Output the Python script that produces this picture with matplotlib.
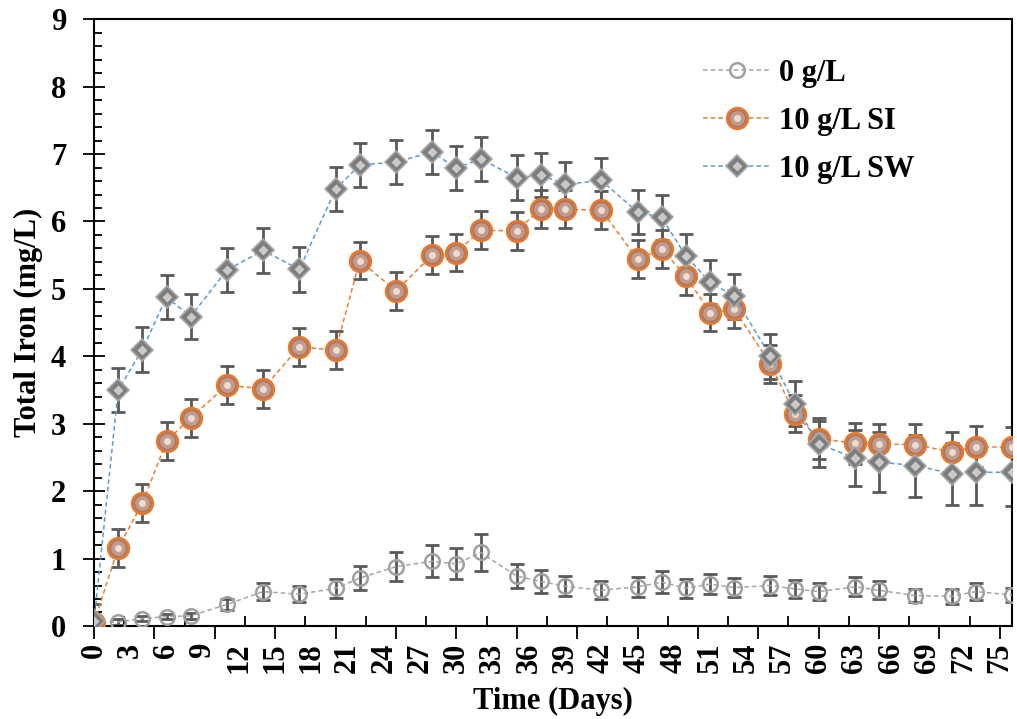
import matplotlib
matplotlib.use('Agg')
import matplotlib.pyplot as plt
from matplotlib.ticker import MultipleLocator, NullFormatter
from matplotlib.legend_handler import HandlerTuple

plt.rcParams['font.family'] = ['Liberation Serif', 'DejaVu Serif']
plt.rcParams['font.weight'] = 'bold'

# sampling days
days = [0, 2, 4, 6, 8, 11, 14, 17, 20, 22, 25, 28, 30, 32, 35, 37, 39, 42,
        45, 47, 49, 51, 53, 56, 58, 60, 63, 65, 68, 71, 73, 76]

# 0 g/L
fe_0 = [0.05, 0.06, 0.11, 0.14, 0.15, 0.32, 0.51, 0.47, 0.56, 0.71, 0.88, 0.96,
        0.92, 1.09, 0.74, 0.66, 0.59, 0.53, 0.58, 0.65, 0.56, 0.62, 0.57, 0.60,
        0.55, 0.51, 0.58, 0.53, 0.45, 0.44, 0.51, 0.46]
err_0 = [0.03, 0.04, 0.04, 0.04, 0.04, 0.08, 0.13, 0.12, 0.14, 0.18, 0.22, 0.24,
         0.23, 0.27, 0.18, 0.165, 0.15, 0.135, 0.15, 0.165, 0.14, 0.15, 0.14, 0.14,
         0.13, 0.12, 0.14, 0.13, 0.10, 0.11, 0.12, 0.10]

# 10 g/L SI
fe_si = [0.05, 1.16, 1.82, 2.74, 3.09, 3.57, 3.52, 4.14, 4.09, 5.42, 4.97, 5.50,
         5.54, 5.87, 5.86, 6.19, 6.18, 6.17, 5.44, 5.59, 5.19, 4.65, 4.70, 3.89,
         3.15, 2.78, 2.71, 2.70, 2.69, 2.58, 2.66, 2.65]
err_si = [0.10, 0.28, 0.28, 0.28, 0.28, 0.28, 0.28, 0.28, 0.28, 0.28, 0.28, 0.28,
          0.28, 0.28, 0.28, 0.28, 0.28, 0.28, 0.28, 0.28, 0.28, 0.28, 0.28, 0.28,
          0.28, 0.30, 0.30, 0.30, 0.30, 0.30, 0.30, 0.30]

# 10 g/L SW
fe_sw = [0.08, 3.50, 4.10, 4.88, 4.59, 5.28, 5.57, 5.29, 6.48, 6.84, 6.88, 7.03,
         6.79, 6.93, 6.65, 6.69, 6.55, 6.61, 6.14, 6.06, 5.49, 5.10, 4.89, 4.00,
         3.30, 2.70, 2.49, 2.43, 2.38, 2.26, 2.28, 2.28]
err_sw = [0.25, 0.33, 0.33, 0.33, 0.33, 0.33, 0.33, 0.33, 0.33, 0.33, 0.33, 0.33,
          0.33, 0.33, 0.33, 0.33, 0.33, 0.33, 0.33, 0.33, 0.33, 0.33, 0.33, 0.33,
          0.33, 0.34, 0.42, 0.44, 0.46, 0.46, 0.49, 0.50]

labels = ['0 g/L', '10 g/L SI', '10 g/L SW']

fig = plt.figure(figsize=(10.17, 7.19), dpi=100)
ax = fig.add_axes([0.0925, 0.1294, 0.9025, 0.8438])

ecol = '#595959'
dash = (3, 2)

# error bars first
for y, e in [(fe_0, err_0), (fe_si, err_si), (fe_sw, err_sw)]:
    ax.errorbar(days, y, yerr=e, fmt='none', ecolor=ecol, elinewidth=2,
                capsize=5, capthick=2, zorder=2)

# 0 g/L : hollow grey circle
l0, = ax.plot(days, fe_0, color='#a5a5a5', lw=1.1, dashes=dash, marker='o', ms=10.5,
              mfc='none', mec='#a0a0a0', mew=1.8, zorder=3)

# 10 g/L SI : copper sphere (3 layers for shading)
l1, = ax.plot(days, fe_si, color='#ed7d31', lw=1.1, dashes=dash, marker='o', ms=15,
              mfc='#a9796a', mec='#e8782a', mew=1.8, zorder=4)
m1, = ax.plot(days, fe_si, ls='none', marker='o', ms=10.5, mfc='#c39b8b',
              mec='none', zorder=5)
h1, = ax.plot(days, fe_si, ls='none', marker='o', ms=5, mfc='#ecdcd4',
              mec='none', zorder=5)

# 10 g/L SW : grey diamond
l2, = ax.plot(days, fe_sw, color='#5b9bd5', lw=1.1, dashes=dash, marker='D', ms=11.5,
              mfc='#7d7d7d', mec='#a8a8a8', mew=1.2, zorder=6)
h2, = ax.plot(days, fe_sw, ls='none', marker='D', ms=5.5, mfc='#c9c9c9',
              mec='none', zorder=7)

ax.set_xlim(0, 76)
ax.set_ylim(0, 9)

for s in ax.spines.values():
    s.set_linewidth(1.5)

# x: ticks every 5 (out) and 2.5 (in), labels every 3 on a secondary axis
ax.xaxis.set_major_locator(MultipleLocator(5))
ax.xaxis.set_minor_locator(MultipleLocator(2.5))
ax.xaxis.set_major_formatter(NullFormatter())
ax.tick_params(axis='x', which='major', direction='out', length=9, width=1.3)
ax.tick_params(axis='x', which='minor', direction='in', length=7, width=1.3)

sec = ax.secondary_xaxis('bottom')
sec.set_xticks(range(0, 76, 3))
sec.tick_params(length=0, pad=12, labelsize=22, rotation=90)
sec.spines['bottom'].set_visible(False)
for t in sec.get_xticklabels():
    t.set_fontweight('bold')
sec.set_xlabel('Time (Days)', fontsize=22, fontweight='bold', labelpad=10)

ax.yaxis.set_major_locator(MultipleLocator(1))
ax.yaxis.set_minor_locator(MultipleLocator(0.2))
ax.tick_params(axis='y', which='major', direction='inout', length=16, width=1.3,
               labelsize=22, pad=12)
ax.tick_params(axis='y', which='minor', direction='in', length=6, width=1.3)
for t in ax.get_yticklabels():
    t.set_fontweight('bold')
ax.set_ylabel('Total Iron (mg/L)', fontsize=22, fontweight='bold', labelpad=6)

ax.legend([l0, (l1, m1, h1), (l2, h2)], labels, loc='upper left',
          bbox_to_anchor=(0.663, 0.935), frameon=False,
          borderpad=0, borderaxespad=0,
          handlelength=2.25, handletextpad=0.25, labelspacing=0.62,
          handler_map={tuple: HandlerTuple(ndivide=1, pad=0)},
          prop={'weight': 'bold', 'size': 22})

fig.savefig('out.png', dpi=100)
